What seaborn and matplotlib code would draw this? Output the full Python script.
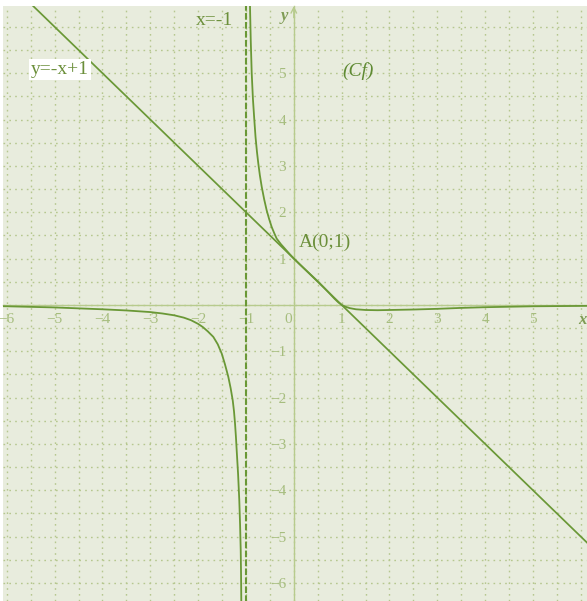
import matplotlib
matplotlib.use("Agg")
import matplotlib.pyplot as plt
from matplotlib.ticker import MultipleLocator, FixedLocator, FixedFormatter
import seaborn as sns
import pandas as pd

# ---- data ----
right_x = [-0.93, -0.916, -0.90, -0.88, -0.855, -0.826, -0.80, -0.77, -0.742, -0.71, -0.671,
           -0.62, -0.567, -0.515, -0.462, -0.41, -0.358, -0.27, -0.184, -0.09, 0.0,
           0.125, 0.25, 0.375, 0.5, 0.625, 0.75, 0.85, 0.93, 1.0, 1.08, 1.17, 1.3, 1.5,
           1.75, 2.0, 2.5, 3.0, 3.5, 4.0, 5.0, 6.3]
right_y = [6.9, 6.45, 5.7, 5.0, 4.45, 4.0, 3.62, 3.3, 3.05, 2.8, 2.55,
           2.28, 2.04, 1.85, 1.68, 1.55, 1.43, 1.31, 1.21, 1.1, 1.0,
           0.875, 0.753, 0.632, 0.51, 0.38, 0.245, 0.135, 0.055, 0.0, -0.04, -0.07, -0.095, -0.11,
           -0.115, -0.11, -0.10, -0.085, -0.065, -0.05, -0.03, -0.02]

left_x = [-6.3, -6.0, -5.0, -4.0, -3.5, -3.0, -2.75, -2.5, -2.3, -2.15, -2.0, -1.9, -1.8,
          -1.683, -1.59, -1.507, -1.44, -1.37, -1.32, -1.277, -1.25, -1.229, -1.21,
          -1.194, -1.165, -1.14, -1.123, -1.11, -1.103, -1.098, -1.094]
left_y = [-0.025, -0.03, -0.055, -0.095, -0.12, -0.155, -0.185, -0.225, -0.275, -0.33, -0.41, -0.48, -0.57,
          -0.69, -0.85, -1.05, -1.28, -1.55, -1.8, -2.06, -2.3, -2.56, -2.85,
          -3.14, -3.65, -4.21, -4.75, -5.29, -5.8, -6.37, -6.8]

tangent_x = [-6.5, 6.5]
tangent_y = [7.5, -5.5]

asym_x = [-1, -1]
asym_y = [-7, 7]

xtick_vals = [-6, -5, -4, -3, -2, -1, 1, 2, 3, 4, 5]
xtick_labels = ["\u22126", "\u22125", "\u22124", "\u22123", "\u22122", "\u22121", "1", "2", "3", "4", "5"]
ytick_vals = [-6, -5, -4, -3, -2, -1, 1, 2, 3, 4, 5]
ytick_labels = ["\u22126", "\u22125", "\u22124", "\u22123", "\u22122", "\u22121", "1", "2", "3", "4", "5"]

# ---- style ----
sns.set_style("white")
plt.rcParams["font.family"] = ["Liberation Serif", "DejaVu Serif"]

BG = "#e8ecdd"
CURVE = "#6a9836"
GRID = "#b6c78f"
AXIS = "#b7cb8d"
TICKTXT = "#a6bd7e"
TXT = "#6b8f3a"

fig = plt.figure(figsize=(5.87, 6.01), dpi=100)
fig.patch.set_facecolor("white")
ax = fig.add_axes([3 / 587, 0, 584 / 587, 595 / 601])
ax.set_facecolor(BG)

ax.set_xlim(-6.08, 6.13)
ax.set_ylim(-6.39, 6.45)

# grid at every half unit
ax.xaxis.set_minor_locator(MultipleLocator(0.5))
ax.yaxis.set_minor_locator(MultipleLocator(0.5))
ax.grid(which="both", color=GRID, linestyle=(0, (1.2, 3.0)), linewidth=1.0)
ax.set_axisbelow(True)

# axes through origin
for s in ["top", "right"]:
    ax.spines[s].set_visible(False)
ax.spines["left"].set_position(("data", 0))
ax.spines["bottom"].set_position(("data", 0))
for s in ["left", "bottom"]:
    ax.spines[s].set_color(AXIS)
    ax.spines[s].set_linewidth(1.0)
    ax.spines[s].set_zorder(1)

ax.xaxis.set_major_locator(FixedLocator(xtick_vals))
ax.xaxis.set_major_formatter(FixedFormatter(xtick_labels))
ax.yaxis.set_major_locator(FixedLocator(ytick_vals))
ax.yaxis.set_major_formatter(FixedFormatter(ytick_labels))
ax.tick_params(which="major", direction="out", length=5, width=1.0, color=AXIS,
               labelcolor=TICKTXT, labelsize=11, pad=0.5)
ax.tick_params(which="minor", length=0)

# ---- curves ----
df_r = pd.DataFrame({"x": right_x, "y": right_y})
df_l = pd.DataFrame({"x": left_x, "y": left_y})
df_t = pd.DataFrame({"x": tangent_x, "y": tangent_y})
sns.lineplot(data=df_t, x="x", y="y", ax=ax, color=CURVE, linewidth=1.25,
             estimator=None, sort=False, zorder=3)
sns.lineplot(data=df_r, x="x", y="y", ax=ax, color=CURVE, linewidth=1.3,
             estimator=None, sort=False, zorder=3)
sns.lineplot(data=df_l, x="x", y="y", ax=ax, color=CURVE, linewidth=1.3,
             estimator=None, sort=False, zorder=3)
ax.plot(asym_x, asym_y, color=CURVE, linewidth=1.5, linestyle=(0, (3.2, 1.1)), zorder=3)
ax.set_xlabel("")
ax.set_ylabel("")

# ---- annotations ----
ax.text(-1.65, 6.14, "x=-1", fontsize=14, color=TXT, ha="center", va="center", zorder=4)
ax.text(-4.89, 5.08, "y=-x+1", fontsize=14, color=TXT, ha="center", va="center", zorder=4,
        bbox=dict(facecolor="white", edgecolor="none", pad=1.5))
ax.text(1.34, 5.04, "(Cf)", fontsize=14, color="#5f8a33", style="italic",
        ha="center", va="center", zorder=4)
ax.text(0.65, 1.36, "A(0;1)", fontsize=14, color=TXT, ha="center", va="center", zorder=4)
ax.text(-0.04, -0.17, "0", fontsize=11, color=TICKTXT, ha="right", va="top", zorder=4)
ax.text(-0.2, 6.23, "y", fontsize=12, color="#7f9c55", style="italic", weight="bold",
        ha="center", va="center", zorder=4)
ax.text(6.03, -0.33, "x", fontsize=12, color="#7f9c55", style="italic", weight="bold",
        ha="center", va="center", zorder=4)

# small arrowhead on the y axis
ax.annotate("", xy=(0, 6.45), xytext=(0, 6.2),
            arrowprops=dict(arrowstyle="->", color=AXIS, lw=1.0, shrinkA=0, shrinkB=0))

fig.savefig("out.png", dpi=100, facecolor="white")
